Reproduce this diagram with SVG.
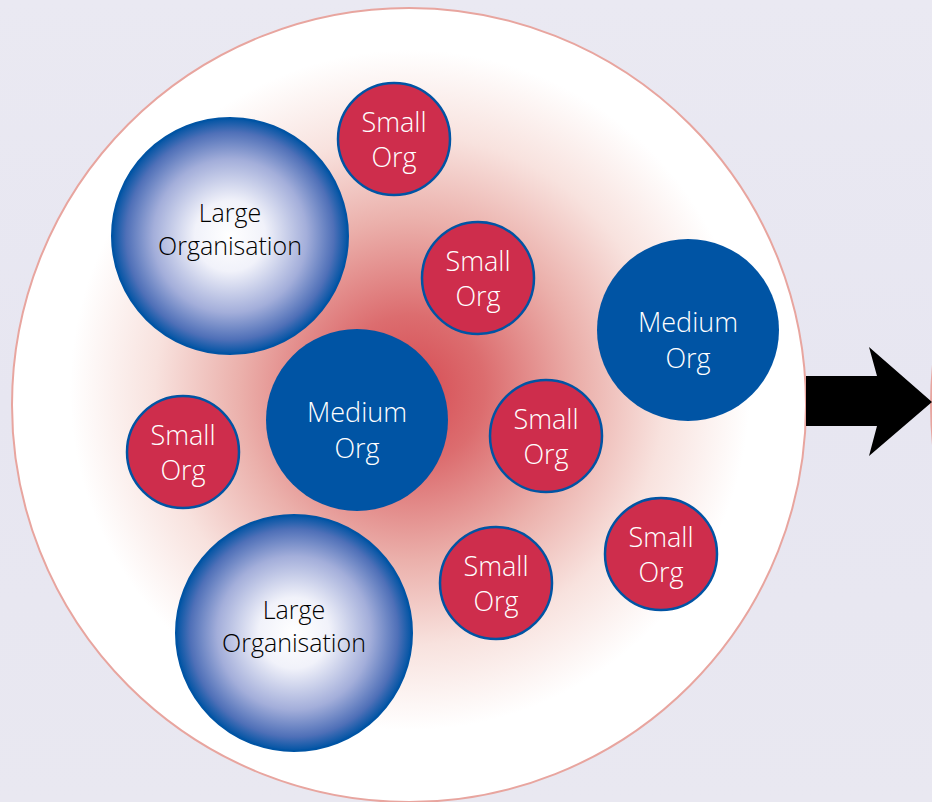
<svg xmlns="http://www.w3.org/2000/svg" width="932" height="802" viewBox="0 0 932 802">
  <defs>
    <linearGradient id="bg" x1="0" y1="0" x2="0" y2="1">
      <stop offset="0" stop-color="#EAE9F2"/>
      <stop offset="0.5" stop-color="#E7E6F1"/>
      <stop offset="1" stop-color="#E9E8F1"/>
    </linearGradient>
    <radialGradient id="glow" cx="410" cy="390" r="340" gradientUnits="userSpaceOnUse">
      <stop offset="0" stop-color="#D64A52"/>
      <stop offset="0.22" stop-color="#DC6D6F"/>
      <stop offset="0.5" stop-color="#EBB0AB"/>
      <stop offset="0.75" stop-color="#F8E2DE"/>
      <stop offset="1" stop-color="#FFFFFF"/>
    </radialGradient>
    <radialGradient id="large" cx="0.5" cy="0.5" r="0.5">
      <stop offset="0" stop-color="#FFFFFF"/>
      <stop offset="0.3" stop-color="#F1F2FA"/>
      <stop offset="0.65" stop-color="#A3AEDA"/>
      <stop offset="0.88" stop-color="#4F70B8"/>
      <stop offset="1" stop-color="#0054A4"/>
    </radialGradient>
    <style>
      .outer { fill: url(#glow); stroke: #E8A59F; stroke-width: 2; }
      .outer2 { fill: #FFFFFF; stroke: #E8A59F; stroke-width: 2; }
      .large { fill: url(#large); stroke: #0054A4; stroke-width: 2; }
      .medium { fill: #0054A4; }
      .small { fill: #CE2D4C; stroke: #0054A4; stroke-width: 2.5; }
      text { font-family: "Open Sans", "Lato", "Liberation Sans", sans-serif; font-weight: 300; text-anchor: middle; }
      .lt { fill: #000000; font-size: 25px; }
      .mt { fill: #FFFFFF; font-size: 27px; }
      .st { fill: #FFFFFF; font-size: 27px; }
    </style>
  </defs>

  <rect x="0" y="0" width="932" height="802" fill="url(#bg)"/>

  <g id="outer-right">
    <circle class="outer2" cx="1328" cy="405" r="397"/>
  </g>

  <g id="outer-circle">
    <circle class="outer" cx="409" cy="405" r="397"/>
  </g>

  <g id="large-1">
    <circle class="large" cx="230" cy="236" r="118"/>
    <text class="lt" x="230" y="222">Large</text>
    <text class="lt" x="230" y="255">Organisation</text>
  </g>

  <g id="large-2">
    <circle class="large" cx="294" cy="633" r="118"/>
    <text class="lt" x="294" y="619">Large</text>
    <text class="lt" x="294" y="652">Organisation</text>
  </g>

  <g id="medium-1">
    <circle class="medium" cx="357" cy="420" r="91"/>
    <text class="mt" x="357" y="422">Medium</text>
    <text class="mt" x="357" y="458">Org</text>
  </g>

  <g id="medium-2">
    <circle class="medium" cx="688" cy="330" r="91"/>
    <text class="mt" x="688" y="332">Medium</text>
    <text class="mt" x="688" y="368">Org</text>
  </g>

  <g id="small-1">
    <circle class="small" cx="394" cy="139" r="56"/>
    <text class="st" x="394" y="132">Small</text>
    <text class="st" x="394" y="167">Org</text>
  </g>

  <g id="small-2">
    <circle class="small" cx="478" cy="278" r="56"/>
    <text class="st" x="478" y="271">Small</text>
    <text class="st" x="478" y="306">Org</text>
  </g>

  <g id="small-3">
    <circle class="small" cx="183" cy="452" r="56"/>
    <text class="st" x="183" y="445">Small</text>
    <text class="st" x="183" y="480">Org</text>
  </g>

  <g id="small-4">
    <circle class="small" cx="546" cy="436" r="56"/>
    <text class="st" x="546" y="429">Small</text>
    <text class="st" x="546" y="464">Org</text>
  </g>

  <g id="small-5">
    <circle class="small" cx="496" cy="583" r="56"/>
    <text class="st" x="496" y="576">Small</text>
    <text class="st" x="496" y="611">Org</text>
  </g>

  <g id="small-6">
    <circle class="small" cx="661" cy="554" r="56"/>
    <text class="st" x="661" y="547">Small</text>
    <text class="st" x="661" y="582">Org</text>
  </g>

  <g id="connectors">
    <polygon points="806,376 877,376 869,347 932,402 869,456 877,426 806,426" fill="#000000"/>
  </g>
</svg>
